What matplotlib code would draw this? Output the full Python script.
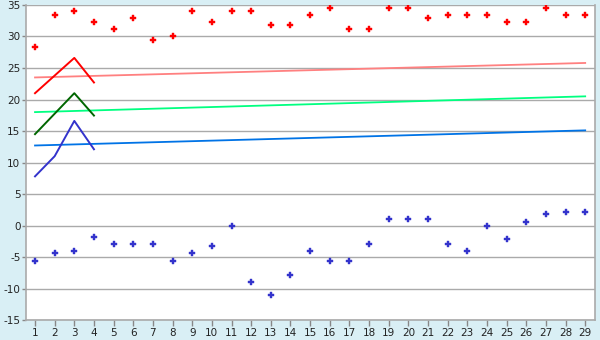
import matplotlib
matplotlib.use("Agg")
import matplotlib.pyplot as plt

plt.rcParams["axes.unicode_minus"] = False

# data
days = list(range(1, 30))
highs = [28.3, 33.4, 34.0, 32.25, 31.14, 32.9, 29.4, 30.0, 34.0, 32.25,
         34.0, 34.0, 31.8, 31.8, 33.4, 34.5, 31.14, 31.14, 34.5, 34.5,
         32.9, 33.4, 33.4, 33.4, 32.25, 32.25, 34.5, 33.4, 33.4]
lows = [-5.56, -4.44, -3.97, -1.75, -2.86, -2.86, -2.86, -5.56, -4.44, -3.33,
        0.0, -8.89, -11.1, -7.78, -3.97, -5.56, -5.56, -2.86, 1.11, 1.11,
        1.11, -2.86, -3.97, 0.0, -2.22, 0.63, 1.75, 2.22, 2.22]

# short zig-zag series over the first days
short_days = [1, 2, 3, 4]
red_short = [21.0, 23.8, 26.6, 22.7]
green_short = [14.5, 17.75, 21.0, 17.45]
blue_short = [7.8, 11.0, 16.6, 12.1]

# trend lines (end points)
trend_x = [1, 29]
trend_pink = [23.5, 25.8]
trend_green = [18.0, 20.5]
trend_blue = [12.7, 15.1]

yticks = list(range(-15, 36, 5))

bg = "#d9eff5"
fig = plt.figure(figsize=(6, 3.4), dpi=100, facecolor=bg)
ax = fig.add_axes([0.0433, 0.0588, 0.9484, 0.9265])
ax.set_facecolor("white")

for v in yticks:
    ax.axhline(v, color="#aaaaaa", lw=1.0, zorder=1)

ax.plot(trend_x, trend_pink, color="#ff8080", lw=1.3, zorder=2)
ax.plot(trend_x, trend_green, color="#00ff80", lw=1.3, zorder=2)
ax.plot(trend_x, trend_blue, color="#0073e6", lw=1.3, zorder=2)

ax.plot(short_days, red_short, color="#ff0000", lw=1.4, zorder=3)
ax.plot(short_days, green_short, color="#006600", lw=1.4, zorder=3)
ax.plot(short_days, blue_short, color="#3333cc", lw=1.4, zorder=3)

ax.plot(days, highs, ls="none", marker="P", ms=4.3, color="#ff0000",
        mec="#ff0000", mew=0.3, zorder=4)
ax.plot(days, lows, ls="none", marker="P", ms=4.3, color="#3333cc",
        mec="#3333cc", mew=0.3, zorder=4)

ax.set_xlim(0.54, 29.5)
ax.set_ylim(-15, 35)
ax.set_xticks(days)
ax.set_yticks(yticks)
ax.tick_params(axis="both", labelsize=7.5, colors="#222222", width=1,
               direction="out")
ax.tick_params(axis="x", length=4, pad=2)
ax.tick_params(axis="y", length=3, pad=1)
ax.tick_params(axis="both", color="#888888")

for side in ["left", "bottom", "right"]:
    ax.spines[side].set_color("#aaaaaa")
    ax.spines[side].set_linewidth(1.2)
ax.spines["top"].set_visible(False)

fig.savefig("out.png", dpi=100, facecolor=bg)
